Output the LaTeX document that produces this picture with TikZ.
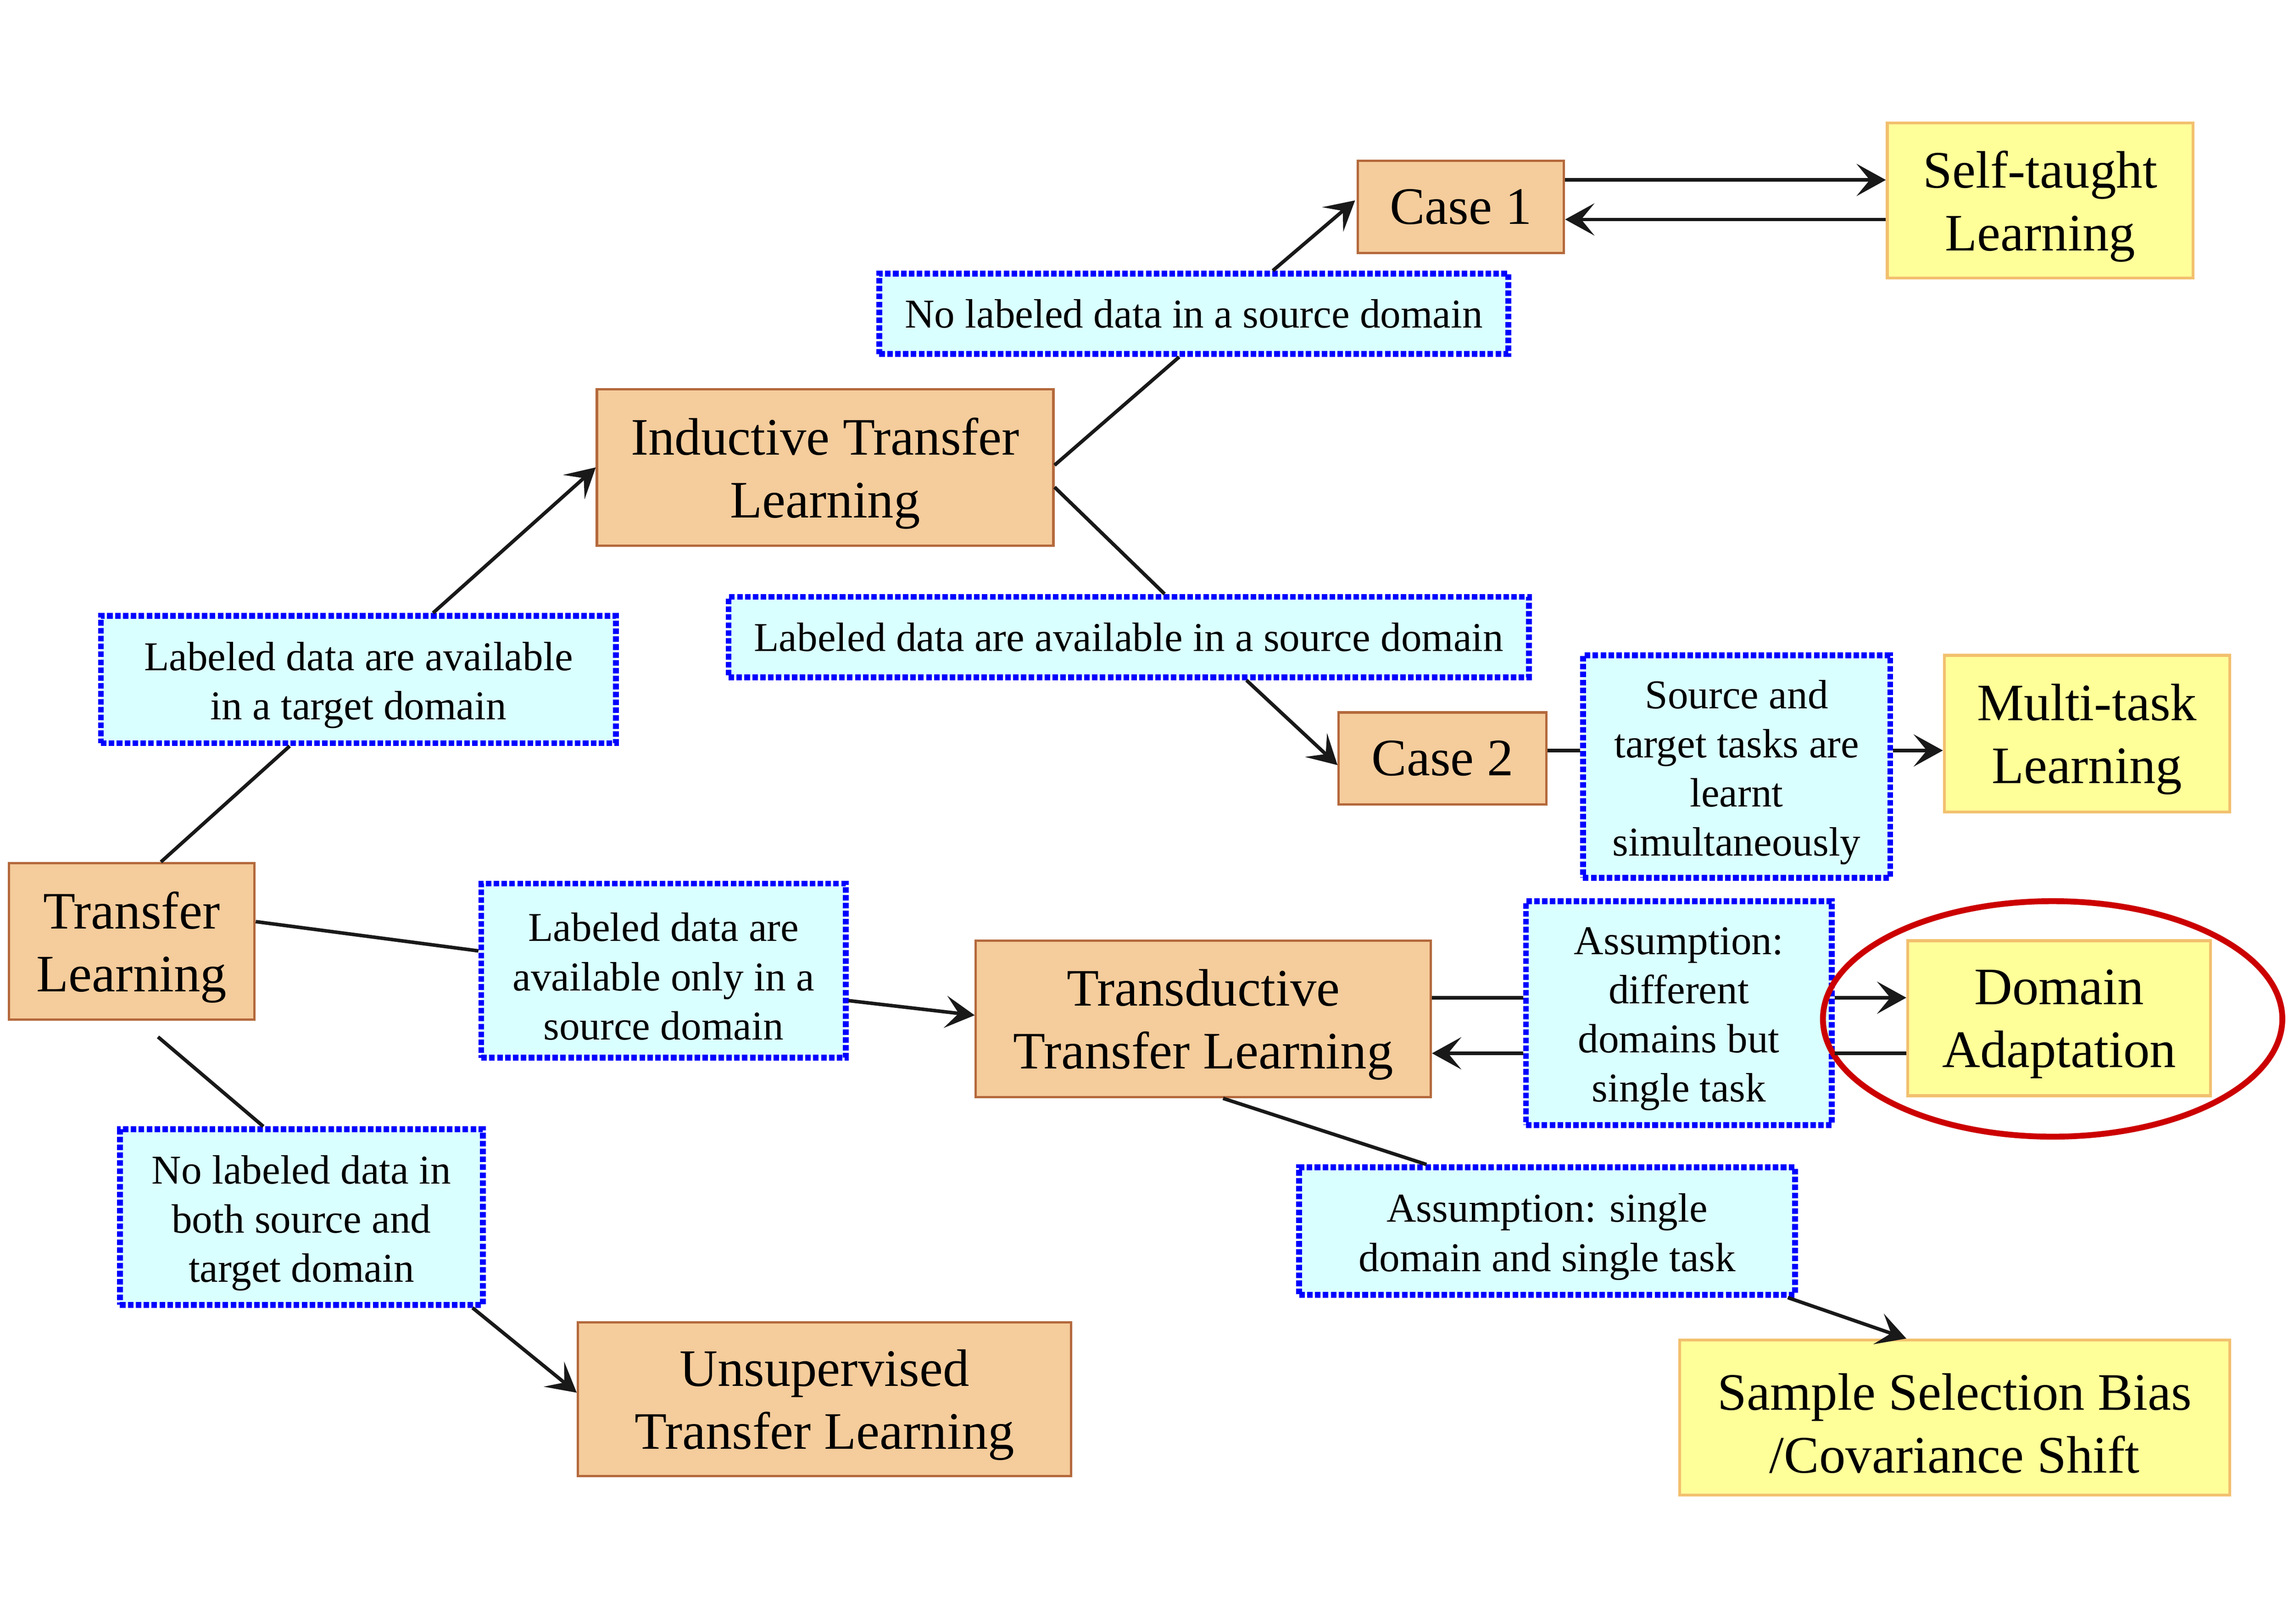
\documentclass[tikz,border=0pt]{standalone}
\usepackage{fontspec}
\setmainfont{Liberation Serif}
\usetikzlibrary{arrows.meta,calc,shapes.geometric}
\definecolor{ofill}{RGB}{245,204,155}
\definecolor{odraw}{RGB}{180,105,60}
\definecolor{yfill}{RGB}{255,255,153}
\definecolor{ydraw}{RGB}{242,192,110}
\definecolor{cfill}{RGB}{217,255,255}
\definecolor{cdraw}{RGB}{0,0,255}
\definecolor{redc}{RGB}{204,0,0}
\tikzset{
  bigfont/.style={font={\fontsize{18}{21.5}\selectfont}},
  smallfont/.style={font={\fontsize{14}{16.8}\selectfont}},
  obox/.style={draw=odraw, fill=ofill, line width=0.8pt, inner sep=0pt, align=center, bigfont},
  ybox/.style={draw=ydraw, fill=yfill, line width=1pt, inner sep=0pt, align=center, bigfont},
  cbox/.style={draw=cdraw, fill=cfill, line width=2pt, dash pattern=on 1.9pt off 0.8pt,
    inner sep=0pt, align=center, smallfont},
  btxt/.style={align=center, inner sep=0pt, yshift=-2pt, bigfont},
  stxt/.style={align=center, inner sep=0pt, yshift=-2pt, smallfont},
  conn/.style={line width=1.2pt, draw=black!90},
  arr/.style={conn, -{Stealth[length=10pt,width=11pt,inset=4.5pt]}}
}
\begin{document}
\begin{tikzpicture}[x=0.5pt,y=-0.5pt]
\fill[white] (0,0) rectangle (1568,1110);
\useasboundingbox (0,0) rectangle (1568,1110);

% orange boxes
\node[obox, minimum width=70.5pt, minimum height=31.5pt] (case1) at (998.5,141.5) {Case 1};
\node[obox, minimum width=156pt, minimum height=53.5pt,
  label={[btxt]center:{Inductive Transfer\\Learning}}] (ind) at (564,319.5) {};
\node[obox, minimum width=71pt, minimum height=31.5pt] (case2) at (986,518.5) {Case 2};
\node[obox, minimum width=84pt, minimum height=53.5pt,
  label={[btxt]center:{Transfer\\Learning}}] (tl) at (90,643.5) {};
\node[obox, minimum width=155.5pt, minimum height=53.5pt,
  label={[btxt]center:{Transductive\\Transfer Learning}}] (trans) at (822.5,696.5) {};
\node[obox, minimum width=168.5pt, minimum height=52.5pt,
  label={[btxt]center:{Unsupervised\\Transfer Learning}}] (unsup) at (563.5,956.5) {};

% yellow boxes
\node[ybox, minimum width=104.5pt, minimum height=53pt,
  label={[btxt]center:{Self-taught\\Learning}}] (self) at (1394.5,137) {};
\node[ybox, minimum width=97.5pt, minimum height=53.5pt,
  label={[btxt]center:{Multi-task\\Learning}}] (multi) at (1426.5,501.5) {};
\node[ybox, minimum width=103.5pt, minimum height=53pt,
  label={[btxt]center:{Domain\\Adaptation}}] (da) at (1407.5,696) {};
\node[ybox, minimum width=188pt, minimum height=53pt,
  label={[btxt]center:{Sample Selection Bias\\/Covariance Shift}}] (ssb) at (1336,969) {};

% dotted condition boxes
\node[cbox, minimum width=215pt, minimum height=27.5pt] (d1) at (816,214.5) {No labeled data in a source domain};
\node[cbox, minimum width=176pt, minimum height=43.5pt,
  label={[stxt]center:{Labeled data are available\\in a target domain}}] (d2) at (245,464.5) {};
\node[cbox, minimum width=273.5pt, minimum height=27.5pt] (d3) at (771.5,435.5) {Labeled data are available in a source domain};
\node[cbox, minimum width=105pt, minimum height=76pt,
  label={[stxt]center:{Source and\\target tasks are\\learnt\\simultaneously}}] (d4) at (1187,524) {};
\node[cbox, minimum width=124.5pt, minimum height=59.5pt,
  label={[stxt]center:{Labeled data are\\available only in a\\source domain}}] (d5) at (453.5,663.5) {};
\node[cbox, minimum width=104.5pt, minimum height=76.5pt,
  label={[stxt]center:{Assumption:\\different\\domains but\\single task}}] (d6) at (1147.5,692.5) {};
\node[cbox, minimum width=124pt, minimum height=60pt,
  label={[stxt]center:{No labeled data in\\both source and\\target domain}}] (d7) at (206,832) {};
\node[cbox, minimum width=169.5pt, minimum height=43.5pt,
  label={[stxt]center:{Assumption: single\\domain and single task}}] (d8) at (1057.5,841.5) {};

% red ellipse
\node[draw=redc, line width=2pt, ellipse, minimum width=157pt, minimum height=80.5pt, inner sep=0pt] (ring) at (1403,696.5) {};

% connectors
\draw[conn] ($(tl.north)+(20,0)$) -- ($(d2.south)+(-47,0)$);
\draw[arr] ($(d2.north)+(51,0)$) -- (ind.west);
\draw[conn] ($(ind.east)+(0,-1.5)$) -- ($(d1.south)+(-10,0)$);
\draw[arr] ($(d1.north)+(54,0)$) -- ($(case1.west)+(-1,-4.5)$);
\draw[conn] ($(ind.east)+(0,13.5)$) -- ($(d3.north)+(24.5,0)$);
\draw[arr] ($(d3.south)+(80.5,0)$) -- ($(case2.west)+(0,4.5)$);
\draw[arr] ($(case1.east)+(0,-18.5)$) -- ($(self.west)+(0,-14)$);
\draw[arr] ($(self.west)+(0,13)$) -- ($(case1.east)+(0,8.5)$);
\draw[conn] ($(case2.east)+(0,-5.5)$) -- ($(d4.west)+(0,-11)$);
\draw[arr] ($(d4.east)+(0,-11)$) -- ($(multi.west)+(0,11.5)$);
\draw[conn] ($(tl.east)+(0,-13.5)$) -- ($(d5.west)+(0,-13.5)$);
\draw[arr] ($(d5.east)+(0,20.5)$) -- ($(trans.west)+(0,-2.5)$);
\draw[conn] ($(trans.east)+(0,-14.5)$) -- ($(d6.west)+(0,-10.5)$);
\draw[arr] ($(d6.east)+(0,-10.5)$) -- ($(da.west)+(0,-14)$);
\draw[conn] ($(da.west)+(0,24)$) -- ($(d6.east)+(0,27.5)$);
\draw[arr] ($(d6.west)+(0,27.5)$) -- ($(trans.east)+(0,23.5)$);
\draw[conn] ($(trans.south)+(13.5,0)$) -- ($(d8.north)+(-82.5,0)$);
\draw[arr] ($(d8.south)+(164.5,0)$) -- ($(ssb.north)+(-33,0)$);
\draw[conn] ($(tl.south)+(18,11)$) -- ($(d7.north)+(-26,0)$);
\draw[arr] ($(d7.south)+(117,0)$) -- ($(unsup.west)+(0,-4.5)$);
\end{tikzpicture}
\end{document}
